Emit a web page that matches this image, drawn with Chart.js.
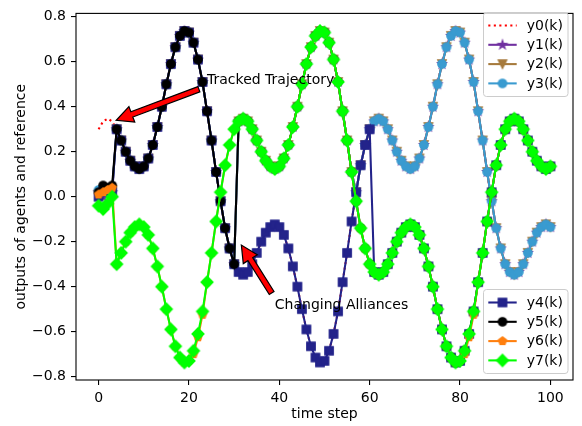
<!DOCTYPE html>
<html>
<head>
<meta charset="utf-8">
<script src="https://cdn.jsdelivr.net/npm/chart.js@4.4.1/dist/chart.umd.min.js"></script>
<style>
  html, body { margin: 0; padding: 0; background: #fff; }
  #wrap { width: 582px; height: 426px; }
</style>
</head>
<body>
<div id="wrap"><canvas id="chart" width="582" height="426"></canvas></div>
<script>
// time steps k = 0..100
const timeSteps = Array.from({ length: 101 }, (_, k) => k);

// reference y0(k)
const y0 = [
  0.30, 0.335, 0.347, 0.335, 0.30, 0.25, 0.20, 0.16, 0.135, 0.123,
  0.135, 0.17, 0.23, 0.31, 0.40, 0.50, 0.59, 0.665, 0.715, 0.737,
  0.73, 0.685, 0.61, 0.51, 0.38, 0.25, 0.11, -0.02, -0.14, -0.23,
  -0.30, -0.335, -0.347, -0.335, -0.30, -0.25, -0.20, -0.16, -0.135, -0.123,
  -0.135, -0.17, -0.23, -0.31, -0.40, -0.50, -0.59, -0.665, -0.715, -0.737,
  -0.73, -0.685, -0.61, -0.51, -0.38, -0.25, -0.11, 0.02, 0.14, 0.23,
  0.30, 0.335, 0.347, 0.335, 0.30, 0.25, 0.20, 0.16, 0.135, 0.123,
  0.135, 0.17, 0.23, 0.31, 0.40, 0.50, 0.59, 0.665, 0.715, 0.737,
  0.73, 0.685, 0.61, 0.51, 0.38, 0.25, 0.11, -0.02, -0.14, -0.23,
  -0.30, -0.335, -0.347, -0.335, -0.30, -0.25, -0.20, -0.16, -0.135, -0.123,
  -0.135
];

const y1 = [
  0.02, 0.00, 0.01, 0.02, 0.30, 0.25, 0.20, 0.16, 0.135, 0.123,
  0.135, 0.17, 0.23, 0.31, 0.40, 0.50, 0.59, 0.665, 0.715, 0.737,
  0.73, 0.685, 0.61, 0.51, 0.38, 0.25, 0.11, -0.02, -0.14, -0.23,
  -0.30, 0.335, 0.347, 0.335, 0.30, 0.25, 0.20, 0.16, 0.135, 0.123,
  0.135, 0.17, 0.23, 0.31, 0.40, 0.50, 0.59, 0.665, 0.715, 0.737,
  0.73, 0.685, 0.61, 0.51, 0.38, 0.25, 0.11, 0.02, 0.14, 0.23,
  0.30, 0.335, 0.347, 0.335, 0.30, 0.25, 0.20, 0.16, 0.135, 0.123,
  0.135, 0.17, 0.23, 0.31, 0.40, 0.50, 0.59, 0.665, 0.715, 0.737,
  0.73, 0.685, 0.61, 0.51, 0.38, 0.25, 0.11, -0.02, -0.14, -0.23,
  -0.30, -0.335, -0.347, -0.335, -0.30, -0.25, -0.20, -0.16, -0.135, -0.123,
  -0.135
];

const y2 = [
  0.01, 0.02, 0.02, 0.03, 0.30, 0.25, 0.20, 0.16, 0.135, 0.123,
  0.135, 0.17, 0.23, 0.31, 0.40, 0.50, 0.59, 0.665, 0.715, 0.737,
  0.73, 0.685, 0.61, 0.51, 0.38, 0.25, 0.11, -0.02, -0.14, -0.23,
  -0.30, 0.335, 0.347, 0.335, 0.30, 0.25, 0.20, 0.16, 0.135, 0.123,
  0.135, 0.17, 0.23, 0.31, 0.40, 0.50, 0.59, 0.665, 0.715, 0.737,
  0.73, 0.685, 0.61, 0.51, 0.38, 0.25, 0.11, 0.02, 0.14, 0.23,
  0.30, 0.335, 0.347, 0.335, 0.30, 0.25, 0.20, 0.16, 0.135, 0.123,
  0.135, 0.17, 0.23, 0.31, 0.40, 0.50, 0.59, 0.665, 0.715, 0.737,
  0.73, 0.685, 0.61, 0.51, 0.38, 0.25, 0.11, -0.02, -0.14, -0.23,
  -0.30, -0.335, -0.347, -0.335, -0.30, -0.25, -0.20, -0.16, -0.135, -0.123,
  -0.135
];

const y3 = [
  0.03, 0.02, 0.02, 0.03, 0.30, 0.25, 0.20, 0.16, 0.135, 0.123,
  0.135, 0.17, 0.23, 0.31, 0.40, 0.50, 0.59, 0.665, 0.715, 0.737,
  0.73, 0.685, 0.61, 0.51, 0.38, 0.25, 0.11, -0.02, -0.14, -0.23,
  -0.30, 0.335, 0.347, 0.335, 0.30, 0.25, 0.20, 0.16, 0.135, 0.123,
  0.135, 0.17, 0.23, 0.31, 0.40, 0.50, 0.59, 0.665, 0.715, 0.737,
  0.73, 0.685, 0.61, 0.51, 0.38, 0.25, 0.11, 0.02, 0.14, 0.23,
  0.30, 0.335, 0.347, 0.335, 0.30, 0.25, 0.20, 0.16, 0.135, 0.123,
  0.135, 0.17, 0.23, 0.31, 0.40, 0.50, 0.59, 0.665, 0.715, 0.737,
  0.73, 0.685, 0.61, 0.51, 0.38, 0.25, 0.11, -0.02, -0.14, -0.23,
  -0.30, -0.335, -0.347, -0.335, -0.30, -0.25, -0.20, -0.16, -0.135, -0.123,
  -0.135
];

const y4 = [
  0.00, 0.02, 0.03, 0.02, 0.30, 0.25, 0.20, 0.16, 0.135, 0.123,
  0.135, 0.17, 0.23, 0.31, 0.40, 0.50, 0.59, 0.665, 0.715, 0.737,
  0.73, 0.685, 0.61, 0.51, 0.38, 0.25, 0.11, -0.02, -0.14, -0.23,
  -0.30, -0.335, -0.347, -0.335, -0.30, -0.25, -0.20, -0.16, -0.135, -0.123,
  -0.135, -0.17, -0.23, -0.31, -0.40, -0.50, -0.59, -0.665, -0.715, -0.737,
  -0.73, -0.685, -0.61, -0.51, -0.38, -0.25, -0.11, 0.02, 0.14, 0.23,
  0.30, -0.335, -0.347, -0.335, -0.30, -0.25, -0.20, -0.16, -0.135, -0.123,
  -0.135, -0.17, -0.23, -0.31, -0.40, -0.50, -0.59, -0.665, -0.715, -0.737,
  -0.73, -0.685, -0.61, -0.51, -0.38, -0.25, -0.11, 0.02, 0.14, 0.23,
  0.30, 0.335, 0.347, 0.335, 0.30, 0.25, 0.20, 0.16, 0.135, 0.123,
  0.135
];

const y5 = [
  0.02, 0.05, 0.04, 0.05, 0.30, 0.25, 0.20, 0.16, 0.135, 0.123,
  0.135, 0.17, 0.23, 0.31, 0.40, 0.50, 0.59, 0.665, 0.715, 0.737,
  0.73, 0.685, 0.61, 0.51, 0.38, 0.25, 0.11, -0.02, -0.14, -0.23,
  -0.30, 0.335, 0.347, 0.335, 0.30, 0.25, 0.20, 0.16, 0.135, 0.123,
  0.135, 0.17, 0.23, 0.31, 0.40, 0.50, 0.59, 0.665, 0.715, 0.737,
  0.73, 0.685, 0.61, 0.51, 0.38, 0.25, 0.11, -0.02, -0.14, -0.23,
  -0.30, -0.335, -0.347, -0.335, -0.30, -0.25, -0.20, -0.16, -0.135, -0.123,
  -0.135, -0.17, -0.23, -0.31, -0.40, -0.50, -0.59, -0.665, -0.715, -0.737,
  -0.73, -0.685, -0.61, -0.51, -0.38, -0.25, -0.11, 0.02, 0.14, 0.23,
  0.30, 0.335, 0.347, 0.335, 0.30, 0.25, 0.20, 0.16, 0.135, 0.123,
  0.135
];

const y6 = [
  0.01, 0.02, 0.03, 0.04, -0.30, -0.25, -0.20, -0.16, -0.135, -0.123,
  -0.135, -0.17, -0.23, -0.31, -0.40, -0.50, -0.59, -0.665, -0.715, -0.737,
  -0.73, -0.70, -0.625, -0.525, -0.38, -0.25, -0.11, 0.02, 0.14, 0.23,
  0.30, 0.335, 0.347, 0.335, 0.30, 0.25, 0.20, 0.16, 0.135, 0.123,
  0.135, 0.17, 0.23, 0.31, 0.40, 0.50, 0.59, 0.665, 0.715, 0.737,
  0.73, 0.685, 0.61, 0.51, 0.38, 0.25, 0.11, -0.02, -0.14, -0.23,
  -0.30, -0.335, -0.347, -0.335, -0.30, -0.25, -0.20, -0.16, -0.135, -0.123,
  -0.135, -0.17, -0.23, -0.31, -0.40, -0.50, -0.59, -0.665, -0.715, -0.737,
  -0.73, -0.70, -0.625, -0.525, -0.38, -0.25, -0.11, 0.02, 0.14, 0.23,
  0.30, 0.335, 0.347, 0.335, 0.30, 0.25, 0.20, 0.16, 0.135, 0.123,
  0.135
];

const y7 = [
  -0.04, -0.055, -0.03, 0.00, -0.30, -0.25, -0.20, -0.16, -0.135, -0.123,
  -0.135, -0.17, -0.23, -0.31, -0.40, -0.50, -0.59, -0.665, -0.715, -0.737,
  -0.73, -0.685, -0.61, -0.51, -0.38, -0.25, -0.11, 0.02, 0.14, 0.23,
  0.30, 0.335, 0.347, 0.335, 0.30, 0.25, 0.20, 0.16, 0.135, 0.123,
  0.135, 0.17, 0.23, 0.31, 0.40, 0.50, 0.59, 0.665, 0.715, 0.737,
  0.73, 0.685, 0.61, 0.51, 0.38, 0.25, 0.11, -0.02, -0.14, -0.23,
  -0.30, -0.335, -0.347, -0.335, -0.30, -0.25, -0.20, -0.16, -0.135, -0.123,
  -0.135, -0.17, -0.23, -0.31, -0.40, -0.50, -0.59, -0.665, -0.715, -0.737,
  -0.73, -0.685, -0.61, -0.51, -0.38, -0.25, -0.11, 0.02, 0.14, 0.23,
  0.30, 0.335, 0.347, 0.335, 0.30, 0.25, 0.20, 0.16, 0.135, 0.123,
  0.135
];

const seriesNames = ["y0(k)", "y1(k)", "y2(k)", "y3(k)", "y4(k)", "y5(k)", "y6(k)", "y7(k)"];
const xTicks = [0, 20, 40, 60, 80, 100];
const yTicks = [-0.8, -0.6, -0.4, -0.2, 0.0, 0.2, 0.4, 0.6, 0.8];
const yTickLabels = ["\u22120.8", "\u22120.6", "\u22120.4", "\u22120.2", "0.0", "0.2", "0.4", "0.6", "0.8"];

// annotations: tip and tail of arrow, text anchor (data coordinates)
const notes = [
  { text: "Tracked Trajectory", at: [24, 0.5], tail: [22.2, 0.478], tip: [3.9, 0.34] },
  { text: "Changing Alliances", at: [39, -0.5], tail: [38.3, -0.428], tip: [31.6, -0.215] }
];

const FONT = '"DejaVu Sans", "Liberation Sans", sans-serif';

function makeMarker(shape, color) {
  const c = document.createElement("canvas");
  c.width = 16;
  c.height = 16;
  const g = c.getContext("2d");
  g.translate(8, 8);
  g.beginPath();
  const r = 4.17;
  if (shape === "circle") {
    g.arc(0, 0, r, 0, Math.PI * 2);
  } else if (shape === "square") {
    g.rect(-r, -r, 2 * r, 2 * r);
  } else if (shape === "diamond") {
    const d = 5.9;
    g.moveTo(0, -d); g.lineTo(d, 0); g.lineTo(0, d); g.lineTo(-d, 0); g.closePath();
  } else if (shape === "triDown") {
    g.moveTo(0, r); g.lineTo(-r, -r); g.lineTo(r, -r); g.closePath();
  } else {
    const n = shape === "star" ? 10 : 5;
    for (let i = 0; i < n; i++) {
      const rr = shape === "star" && i % 2 ? r * 0.382 : r;
      const a = -Math.PI / 2 + (i * Math.PI * 2) / n;
      if (i === 0) g.moveTo(rr * Math.cos(a), rr * Math.sin(a));
      else g.lineTo(rr * Math.cos(a), rr * Math.sin(a));
    }
    g.closePath();
  }
  g.fillStyle = color;
  g.fill();
  g.strokeStyle = color;
  g.lineWidth = 1.39;
  g.stroke();
  return c;
}

const styles = [
  { color: "#ff0000", shape: null, dash: [2.1, 3.4] },
  { color: "#7030a0", shape: "star" },
  { color: "#a67a3c", shape: "triDown" },
  { color: "#3a9bd0", shape: "circle" },
  { color: "#23238a", shape: "square" },
  { color: "#000000", shape: "circle" },
  { color: "#ff7f0e", shape: "pentagon" },
  { color: "#00ff00", shape: "diamond" }
];

const allSeries = [y0, y1, y2, y3, y4, y5, y6, y7];

const datasets = allSeries.map((vals, i) => {
  const st = styles[i];
  const img = st.shape ? makeMarker(st.shape, st.color) : null;
  return {
    label: seriesNames[i],
    data: timeSteps.map((k, j) => ({ x: k, y: vals[j] })),
    borderColor: st.color,
    borderWidth: 2.08,
    borderDash: st.dash || [],
    pointStyle: img || "circle",
    pointRadius: img ? 4 : 0,
    pointHoverRadius: img ? 4 : 0,
    tension: 0,
    fill: false,
    order: 7 - i,
    markerImg: img
  };
});

function drawArrow(ctx, x1, y1, x2, y2) {
  const dx = x2 - x1, dy = y2 - y1, len = Math.hypot(dx, dy);
  const ux = dx / len, uy = dy / len, px = -uy, py = ux;
  const hw = 8.3, hl = 16.7, sw = 2.8;
  const bx = x2 - ux * hl, by = y2 - uy * hl;
  ctx.beginPath();
  ctx.moveTo(x1 + px * sw, y1 + py * sw);
  ctx.lineTo(bx + px * sw, by + py * sw);
  ctx.lineTo(bx + px * hw, by + py * hw);
  ctx.lineTo(x2, y2);
  ctx.lineTo(bx - px * hw, by - py * hw);
  ctx.lineTo(bx - px * sw, by - py * sw);
  ctx.lineTo(x1 - px * sw, y1 - py * sw);
  ctx.closePath();
  ctx.fillStyle = "#ff0000";
  ctx.fill();
  ctx.strokeStyle = "#000";
  ctx.lineWidth = 1.2;
  ctx.lineJoin = "miter";
  ctx.stroke();
}

function drawLegend(ctx, chart, idxs, bx, by) {
  const w = 84.5, h = 84, rad = 3;
  ctx.save();
  ctx.beginPath();
  ctx.moveTo(bx + rad, by);
  ctx.arcTo(bx + w, by, bx + w, by + h, rad);
  ctx.arcTo(bx + w, by + h, bx, by + h, rad);
  ctx.arcTo(bx, by + h, bx, by, rad);
  ctx.arcTo(bx, by, bx + w, by, rad);
  ctx.closePath();
  ctx.fillStyle = "rgba(255,255,255,0.8)";
  ctx.fill();
  ctx.strokeStyle = "#cccccc";
  ctx.lineWidth = 1;
  ctx.stroke();
  idxs.forEach((i, row) => {
    const ds = chart.data.datasets[i];
    const ry = by + 13 + row * 19.3;
    ctx.beginPath();
    ctx.setLineDash(ds.borderDash);
    ctx.strokeStyle = ds.borderColor;
    ctx.lineWidth = ds.borderWidth;
    ctx.moveTo(bx + 4.8, ry);
    ctx.lineTo(bx + 33.2, ry);
    ctx.stroke();
    ctx.setLineDash([]);
    if (ds.markerImg) ctx.drawImage(ds.markerImg, bx + 19 - 8, ry - 8);
    ctx.fillStyle = "#000";
    ctx.font = "14px " + FONT;
    ctx.textAlign = "left";
    ctx.textBaseline = "middle";
    ctx.fillText(ds.label, bx + 43.2, ry + 0.5);
  });
  ctx.restore();
}

const overlay = {
  id: "overlay",
  afterDatasetsDraw(chart) {
    const { ctx, chartArea: a, scales } = chart;
    const xs = scales.x, ys = scales.y;
    ctx.save();
    // axes frame
    ctx.strokeStyle = "#000";
    ctx.lineWidth = 1.1;
    ctx.strokeRect(a.left, a.top, a.right - a.left, a.bottom - a.top);
    // annotations
    notes.forEach((n) => {
      drawArrow(ctx,
        xs.getPixelForValue(n.tail[0]), ys.getPixelForValue(n.tail[1]),
        xs.getPixelForValue(n.tip[0]), ys.getPixelForValue(n.tip[1]));
      ctx.fillStyle = "#000";
      ctx.font = "14px " + FONT;
      ctx.textAlign = "left";
      ctx.textBaseline = "alphabetic";
      ctx.fillText(n.text, xs.getPixelForValue(n.at[0]), ys.getPixelForValue(n.at[1]));
    });
    // legends
    drawLegend(ctx, chart, [0, 1, 2, 3], 483.5, 12.5);
    drawLegend(ctx, chart, [4, 5, 6, 7], 483.5, 289.5);
    // axis titles
    ctx.fillStyle = "#000";
    ctx.font = "14px " + FONT;
    ctx.textAlign = "center";
    ctx.textBaseline = "middle";
    ctx.fillText("time step", (a.left + a.right) / 2, 414);
    ctx.translate(21, (a.top + a.bottom) / 2);
    ctx.rotate(-Math.PI / 2);
    ctx.fillText("outputs of agents and reference", 0, 0);
    ctx.restore();
  }
};

const chart = new Chart(document.getElementById("chart").getContext("2d"), {
  type: "line",
  data: { datasets },
  options: {
    responsive: false,
    devicePixelRatio: 1,
    animation: false,
    events: [],
    layout: { padding: { left: 0, right: 9, top: 6, bottom: 0 } },
    plugins: { legend: { display: false }, tooltip: { enabled: false } },
    scales: {
      x: {
        type: "linear",
        min: -5,
        max: 105,
        afterFit: (s) => { s.height = 46; },
        afterBuildTicks: (s) => { s.ticks = xTicks.map((v) => ({ value: v })); },
        grid: { drawOnChartArea: false, drawTicks: true, tickLength: 5, color: "#000", lineWidth: 1.1 },
        border: { display: false },
        ticks: { color: "#000", font: { family: FONT, size: 14 }, padding: 5, maxRotation: 0,
                 callback: (v) => String(v) }
      },
      y: {
        type: "linear",
        min: -0.815,
        max: 0.815,
        afterFit: (s) => { s.width = 76; },
        afterBuildTicks: (s) => { s.ticks = yTicks.map((v) => ({ value: v })); },
        grid: { drawOnChartArea: false, drawTicks: true, tickLength: 5, color: "#000", lineWidth: 1.1 },
        border: { display: false },
        ticks: { color: "#000", font: { family: FONT, size: 14 }, padding: 5,
                 callback: (v, i) => yTickLabels[i] }
      }
    }
  },
  plugins: [overlay]
});
</script>
</body>
</html>
